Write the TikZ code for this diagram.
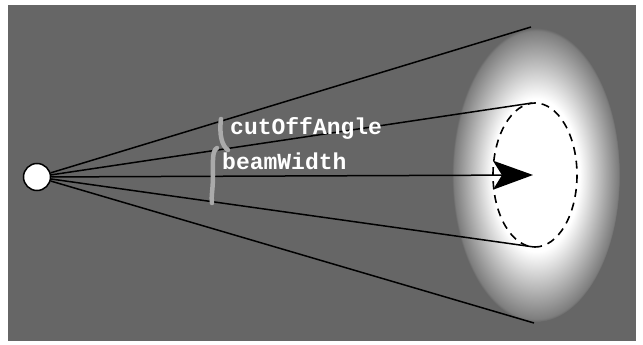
\documentclass[tikz,border=0pt]{standalone}
\usepackage{fontspec}
\newfontfamily\codefont{Liberation Mono}
\usetikzlibrary{arrows.meta,positioning}
\definecolor{bggray}{RGB}{102,102,102}
\definecolor{bracegray}{RGB}{170,170,170}
\pgfdeclareradialshading{glow}{\pgfpoint{0bp}{0bp}}{color(0bp)=(white); color(13bp)=(white); color(24.5bp)=(bggray!85!white); color(25bp)=(bggray); color(50bp)=(bggray)}
\tikzset{
  ray/.style={black, line width=1.5pt},
  beam/.style={ray, -{Stealth[length=40pt, width=29pt, inset=9pt]}},
  source/.style={circle, draw=black, fill=white, line width=1.5pt, minimum size=27pt, inner sep=0pt},
  rim/.style={draw=black, line width=1.6pt, dash pattern=on 8pt off 6pt, fill=white},
  brace/.style={draw=bracegray, line width=4.5pt, line cap=round},
  field/.style={font=\codefont\bfseries\fontsize{23}{23}\selectfont, text=white, anchor=base west, inner sep=0pt}
}

\begin{document}
\begin{tikzpicture}[x=1pt, y=-1pt]
  \useasboundingbox (0,0) rectangle (643,345);
  \fill[bggray] (8,5) rectangle (636,341);
  % light spot
  \shade[shading=glow] (536,175) ellipse [x radius=84, y radius=147];
  \draw[rim] (535,175) ellipse [x radius=42, y radius=72];
  \node[source] (src) at (37,177) {};
  \coordinate (rimtop) at (531,27);
  \coordinate (rimup) at (532,103);
  \coordinate (rimlow) at (534,247);
  \coordinate (rimbot) at (534,323);
  \coordinate (tip) at (533,175);
  \foreach \e in {rimtop,rimup,rimlow,rimbot}{\draw[ray] (src) -- (\e);}
  \draw[beam] (src) -- (tip);
  \draw[brace] (221,119) .. controls (219,135) and (222,146) .. (228,150);
  \draw[brace] (217,148) .. controls (212,151) and (213,161) .. (213,175) .. controls (213,190) and (211,195) .. (212,203);
  \node[field] (cutoff) at (230,135) {cutOffAngle};
  \node[field] (width) at (222,169) {beamWidth};
\end{tikzpicture}
\end{document}
